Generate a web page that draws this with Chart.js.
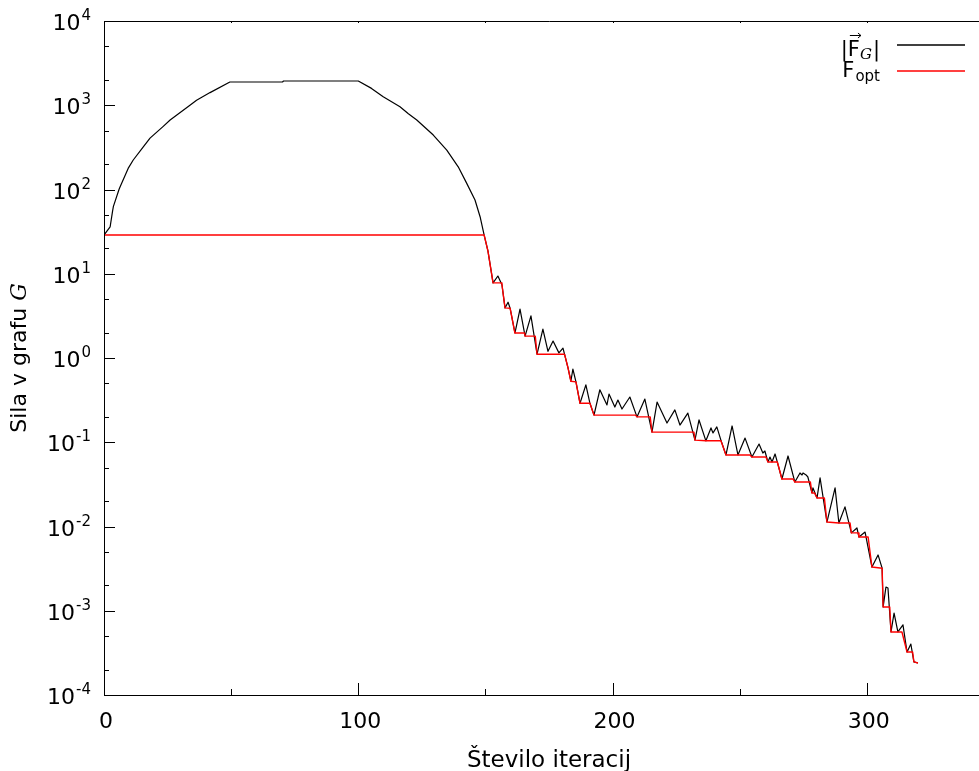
<!DOCTYPE html>
<html>
<head>
<meta charset="utf-8">
<script src="https://cdn.jsdelivr.net/npm/chart.js@4.4.1/dist/chart.umd.min.js"></script>
<style>
  html, body { margin: 0; padding: 0; background: #fff; overflow: hidden; }
  #wrap { width: 1000px; height: 771px; }
</style>
</head>
<body>
<div id="wrap"><canvas id="chart" width="1000" height="771"></canvas></div>
<script>
// |F_G| (black): iteration, force
const fgIter = [0, 1, 2.4, 3.4, 3.7, 5.9, 6.3, 9.5, 11.5, 15.3, 18.1, 23.3, 26.0, 33.8, 36.4,
  41.7, 49.5, 70.2, 70.6, 100.0, 105.2, 109.8, 116.4, 119.7, 123.0, 129.5, 134.8, 139.3,
  142.6, 145.9, 147.9, 149.5, 151.0, 153.0,
  154.9, 156.5, 157.7, 158.9, 159.7, 161.6, 163.6, 165.6, 167.9, 170.3, 172.6, 174.6,
  176.6, 178.9, 180.5, 182.5, 183.6, 184.4, 185.6, 187.2, 189.5, 191.1, 192.7, 195.0,
  197.8, 198.6, 200.9, 202.1, 203.7, 206.8, 209.6, 212.7, 215.5, 217.5, 221.4, 224.5,
  226.5, 229.6, 232.4, 234.0, 236.7, 238.7, 239.5, 241.0, 242.6, 244.6, 247.0, 249.3,
  252.1, 254.8, 257.6, 259.1, 259.9, 261.1, 261.9, 262.7, 263.9, 266.6, 269.0, 271.7,
  273.7, 274.5, 274.9, 276.1, 276.8, 278.4, 278.8, 280.4, 281.6, 284.3, 287.5, 289.0,
  291.4, 293.9, 296.1, 296.9, 299.3, 302.0, 304.4, 306.0, 306.4, 307.5, 308.3, 309.5,
  310.7, 312.2, 314.2, 315.8, 317.3, 318.5, 320.1];
const fgForce = [28.8, 31.6, 35.9, 56.2, 63.1, 100, 107, 178, 224, 316, 407, 562, 668, 1000, 1148,
  1413, 1888, 1888, 1940, 1940, 1585, 1260, 962, 794, 668, 443, 294, 186,
  119, 75, 47.5, 28.8, 18.6, 7.8,
  9.4, 7.4, 3.93, 4.6, 3.9, 1.98, 3.8, 1.82, 3.16, 1.11, 2.2, 1.2,
  1.59, 1.15, 1.31, 0.76, 0.53, 0.74, 0.52, 0.29, 0.48, 0.29, 0.21, 0.42,
  0.277, 0.374, 0.262, 0.317, 0.248, 0.344, 0.20, 0.326, 0.132, 0.30, 0.169, 0.242,
  0.16, 0.222, 0.106, 0.184, 0.104, 0.148, 0.129, 0.152, 0.106, 0.0706, 0.156, 0.0706,
  0.112, 0.0668, 0.0953, 0.0745, 0.0787, 0.0583, 0.0668, 0.0583, 0.0726, 0.0366, 0.0687, 0.0337,
  0.0432, 0.0409, 0.0432, 0.0409, 0.0387, 0.025, 0.0287, 0.0218, 0.0377, 0.0113, 0.0287, 0.011,
  0.0171, 0.0084, 0.0096, 0.0075, 0.0086, 0.0033, 0.0046, 0.0032, 0.00111, 0.00191, 0.00186, 0.00056,
  0.00094, 0.00056, 0.00068, 0.000324, 0.000403, 0.000247, 0.00024];

// F_opt (red)
const foptIter = [0, 149.5, 151.0, 153.0, 156.3, 156.5, 157.7, 159.7, 161.6, 165.4, 165.6,
  169.6, 170.3, 181.1, 182.5, 183.6, 185.6, 187.2, 191.1, 192.7, 209.0, 209.6, 214.8,
  215.5, 232.0, 232.4, 236.7, 242.6, 244.6, 254.0, 254.8, 260.3, 261.1, 264.8, 266.6,
  271.0, 271.7, 277.8, 278.4, 279.4, 280.4, 283.3, 284.3, 289.0, 293.4, 293.9, 296.6,
  296.9, 300.5, 302.0, 306.0, 306.4, 309.0, 309.5, 313.8, 315.8, 318.0, 318.5, 320.1];
const foptForce = [28.8, 28.8, 18.6, 7.8, 7.8, 7.4, 3.93, 3.9, 1.98, 1.98, 1.82,
  1.82, 1.11, 1.11, 0.76, 0.53, 0.52, 0.29, 0.29, 0.21, 0.21, 0.20, 0.20,
  0.132, 0.132, 0.106, 0.104, 0.104, 0.0706, 0.0706, 0.0668, 0.0668, 0.0583, 0.0583, 0.0366,
  0.0366, 0.0337, 0.0337, 0.025, 0.025, 0.0218, 0.0218, 0.0113, 0.011, 0.011, 0.0084, 0.0084,
  0.0075, 0.0075, 0.0033, 0.0032, 0.00111, 0.00111, 0.00056, 0.00056, 0.000324, 0.000324, 0.000247, 0.00024];

const xTicks = [0, 100, 200, 300];
const xMinorTicks = [50, 150, 250, 350];
const yTickExps = [-4, -3, -2, -1, 0, 1, 2, 3, 4];
const yMinorMults = [2, 5];

const FONT = '"DejaVu Sans"';

function toPoints(xs, ys) {
  return xs.map((x, i) => ({ x: x, y: ys[i] }));
}

// gnuplot-like frame, inward ticks, labels, legend
const decorations = {
  id: 'decorations',
  afterDraw(chart) {
    const ctx = chart.ctx;
    const a = chart.chartArea;
    const xs = chart.scales.x;
    const ys = chart.scales.y;
    ctx.save();
    ctx.strokeStyle = '#000';
    ctx.fillStyle = '#000';
    ctx.lineWidth = 1;

    // frame
    ctx.beginPath();
    ctx.moveTo(a.left + 0.5, a.top + 0.5);
    ctx.lineTo(a.right, a.top + 0.5);
    ctx.moveTo(a.left + 0.5, a.top);
    ctx.lineTo(a.left + 0.5, a.bottom + 1);
    ctx.moveTo(a.left, a.bottom + 0.5);
    ctx.lineTo(a.right, a.bottom + 0.5);
    ctx.stroke();

    // x ticks
    ctx.beginPath();
    xTicks.forEach(v => {
      const x = Math.round(xs.getPixelForValue(v)) + 0.5;
      ctx.moveTo(x, a.bottom); ctx.lineTo(x, a.bottom - 12);
      ctx.moveTo(x, a.top); ctx.lineTo(x, a.top + 2);
    });
    xMinorTicks.forEach(v => {
      const x = Math.round(xs.getPixelForValue(v)) + 0.5;
      ctx.moveTo(x, a.bottom); ctx.lineTo(x, a.bottom - 6);
      ctx.moveTo(x, a.top); ctx.lineTo(x, a.top + 2);
    });
    // y ticks
    yTickExps.forEach(e => {
      const y = Math.round(ys.getPixelForValue(Math.pow(10, e))) + 0.5;
      ctx.moveTo(a.left, y); ctx.lineTo(a.left + 11, y);
      if (e < 4) {
        yMinorMults.forEach(m => {
          const ym = Math.round(ys.getPixelForValue(m * Math.pow(10, e))) + 0.5;
          ctx.moveTo(a.left, ym); ctx.lineTo(a.left + 5, ym);
        });
      }
    });
    ctx.stroke();

    // x tick labels
    ctx.font = '22px ' + FONT;
    ctx.textAlign = 'center';
    ctx.textBaseline = 'middle';
    xTicks.forEach(v => {
      ctx.fillText(String(v), xs.getPixelForValue(v) + 2, a.bottom + 27);
    });

    // y tick labels 10^e
    yTickExps.forEach(e => {
      const y = ys.getPixelForValue(Math.pow(10, e));
      const sup = String(e);
      ctx.font = '22px ' + FONT;
      const w1 = ctx.measureText('10').width;
      ctx.font = '15px ' + FONT;
      const w2 = ctx.measureText(sup).width;
      const x0 = a.left - 14 - w1 - w2;
      ctx.textAlign = 'left';
      ctx.textBaseline = 'alphabetic';
      ctx.font = '22px ' + FONT;
      ctx.fillText('10', x0, y + 9);
      ctx.font = '15px ' + FONT;
      ctx.fillText(sup, x0 + w1 + 1, y - 1);
    });

    // x title
    ctx.font = '23px ' + FONT;
    ctx.textAlign = 'center';
    ctx.textBaseline = 'alphabetic';
    ctx.fillText('Število iteracij', (a.left + a.right) / 2, 767);

    // y title (rotated)
    ctx.save();
    ctx.translate(20, (a.top + a.bottom) / 2);
    ctx.rotate(-Math.PI / 2);
    ctx.textBaseline = 'middle';
    ctx.font = '22px ' + FONT;
    const t1 = 'Sila v grafu ';
    const w1 = ctx.measureText(t1).width;
    ctx.font = 'italic 22px "DejaVu Serif"';
    const w2 = ctx.measureText('G').width;
    ctx.textAlign = 'left';
    ctx.font = '22px ' + FONT;
    ctx.fillText(t1, -(w1 + w2) / 2, 0);
    ctx.font = 'italic 22px "DejaVu Serif"';
    ctx.fillText('G', -(w1 + w2) / 2 + w1, 0);
    ctx.restore();

    // legend
    const right = 880;
    ctx.textAlign = 'left';
    ctx.textBaseline = 'alphabetic';
    // entry 1: |F_G| with vector arrow
    let base = 56;
    ctx.font = '21px ' + FONT;
    const wb = ctx.measureText('|').width;
    const wf = ctx.measureText('F').width;
    ctx.font = 'italic 15px "DejaVu Serif"';
    const wg = ctx.measureText('G').width;
    let x = right - (wb * 2 + wf + wg + 1);
    ctx.font = '21px ' + FONT;
    ctx.fillText('|', x, base);
    x += wb;
    const fx = x;
    ctx.fillText('F', x, base);
    x += wf;
    ctx.font = 'italic 15px "DejaVu Serif"';
    ctx.fillText('G', x, base + 3);
    x += wg + 1;
    ctx.font = '21px ' + FONT;
    ctx.fillText('|', x, base);
    // arrow above F
    ctx.beginPath();
    ctx.moveTo(fx + 2, base - 20.5);
    ctx.lineTo(fx + wf + 1, base - 20.5);
    ctx.moveTo(fx + wf - 2, base - 23);
    ctx.lineTo(fx + wf + 1, base - 20.5);
    ctx.lineTo(fx + wf - 2, base - 18);
    ctx.stroke();
    ctx.beginPath();
    ctx.lineWidth = 1.3;
    ctx.moveTo(897, 45); ctx.lineTo(965, 45);
    ctx.stroke();

    // entry 2: F_opt
    base = 77;
    ctx.font = '21px ' + FONT;
    const wF = ctx.measureText('F').width;
    ctx.font = '15px ' + FONT;
    const wo = ctx.measureText('opt').width;
    x = right - (wF + wo + 1);
    ctx.font = '21px ' + FONT;
    ctx.fillText('F', x, base);
    ctx.font = '15px ' + FONT;
    ctx.fillText('opt', x + wF + 1, base + 4);
    ctx.beginPath();
    ctx.strokeStyle = '#ff0000';
    ctx.lineWidth = 1.3;
    ctx.moveTo(897, 71); ctx.lineTo(965, 71);
    ctx.stroke();

    ctx.restore();
  }
};

const ctx = document.getElementById('chart').getContext('2d');
const chart = new Chart(ctx, {
  type: 'line',
  data: {
    datasets: [{
      label: 'F_opt',
      data: toPoints(foptIter, foptForce),
      borderColor: '#ff0000',
      borderWidth: 1.4,
      pointRadius: 0,
      tension: 0,
      borderJoinStyle: 'round'
    }, {
      label: '|F_G|',
      data: toPoints(fgIter, fgForce),
      borderColor: '#000000',
      borderWidth: 1.2,
      pointRadius: 0,
      tension: 0,
      borderJoinStyle: 'round'
    }]
  },
  options: {
    responsive: false,
    animation: false,
    devicePixelRatio: 1,
    layout: { padding: { left: 104, top: 21, right: 6, bottom: 76 } },
    scales: {
      x: { type: 'linear', min: 0, max: 350, display: false },
      y: { type: 'logarithmic', min: 1e-4, max: 1e4, display: false }
    },
    plugins: {
      legend: { display: false },
      tooltip: { enabled: false }
    }
  },
  plugins: [decorations]
});
</script>
</body>
</html>
